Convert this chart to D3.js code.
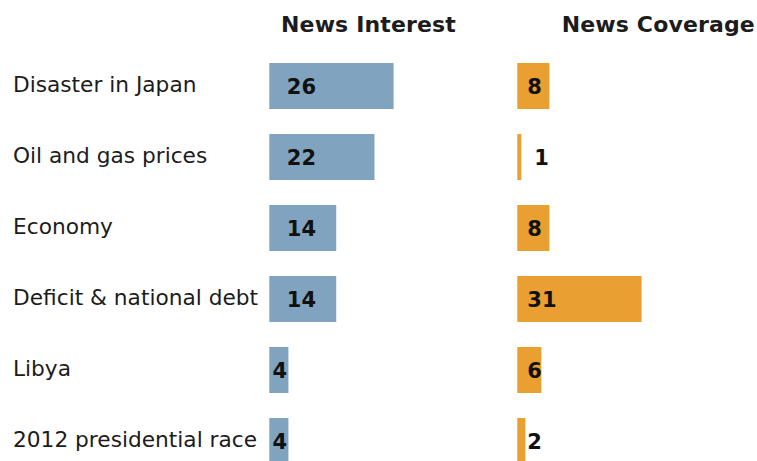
<!DOCTYPE html>
<html>
<head>
<meta charset="utf-8">
<script src="https://cdn.jsdelivr.net/npm/d3@7"></script>
<style>
  html, body { margin: 0; padding: 0; background: #ffffff; }
  svg { display: block; }
</style>
</head>
<body>
<svg id="chart" width="757" height="461"></svg>
<script>
// Stories, and the share of public interest vs. share of news coverage (%)
const categories = [
  "Disaster in Japan",
  "Oil and gas prices",
  "Economy",
  "Deficit & national debt",
  "Libya",
  "2012 presidential race"
];
const newsInterest = [26, 22, 14, 14, 4, 4];
const newsCoverage = [8, 1, 8, 31, 6, 2];
const panelTitles = ["News Interest", "News Coverage"];

const W = 757, H = 461;
const svg = d3.select("#chart");
const textColor = "#1c1c1c";
const blue = "#80a4bf";
const orange = "#e9a030";

// Shared row layout
const y = d3.scaleBand()
  .domain(categories)
  .range([50.5, 476.5])
  .paddingInner(0.352)
  .paddingOuter(0.176);

// Each panel is scaled so its largest value spans the same width
const barSpan = 124.3;
const xInterest = d3.scaleLinear()
  .domain([0, d3.max(newsInterest)])
  .range([269.3, 269.3 + barSpan]);
const xCoverage = d3.scaleLinear()
  .domain([0, d3.max(newsCoverage)])
  .range([517.3, 517.3 + barSpan]);

// Category labels
svg.append("g")
  .selectAll("text")
  .data(categories)
  .join("text")
  .attr("x", 13)
  .attr("y", d => y(d) + y.bandwidth() / 2 + 5.5)
  .attr("font-family", "'DejaVu Sans', Verdana, sans-serif")
  .attr("font-size", 21.7)
  .attr("fill", textColor)
  .text(d => d);

// Panel titles
svg.append("g")
  .selectAll("text")
  .data(panelTitles)
  .join("text")
  .attr("x", (d, i) => i === 0 ? 281 : 561.7)
  .attr("y", 31.5)
  .attr("font-family", "'DejaVu Sans', Verdana, sans-serif")
  .attr("font-weight", "bold")
  .attr("font-size", 22)
  .attr("letter-spacing", 0.15)
  .attr("fill", textColor)
  .text(d => d);

function drawPanel(values, x, color, labelPos) {
  const rows = categories.map((c, i) => ({ c, v: values[i] }));
  const g = svg.append("g");
  g.selectAll("rect")
    .data(rows)
    .join("rect")
    .attr("x", x(0))
    .attr("y", d => y(d.c))
    .attr("width", d => x(d.v) - x(0))
    .attr("height", y.bandwidth())
    .attr("fill", color);
  g.selectAll("text")
    .data(rows)
    .join("text")
    .each(function (d) {
      const p = labelPos(d, x);
      d3.select(this)
        .attr("x", p.x)
        .attr("text-anchor", p.anchor);
    })
    .attr("y", d => y(d.c) + y.bandwidth() / 2 + 8)
    .attr("font-family", "'DejaVu Sans', Verdana, sans-serif")
    .attr("font-weight", "bold")
    .attr("font-size", 21)
    .attr("fill", "#111")
    .text(d => d.v);
}

// Interest labels: inset from the bar start, centred in short bars
drawPanel(newsInterest, xInterest, blue, (d, x) => {
  const w = x(d.v) - x(0);
  return w >= 40
    ? { x: x(0) + 17.5, anchor: "start" }
    : { x: x(0) + w / 2 + 1, anchor: "middle" };
});

// Coverage labels: inset from the bar start, placed past hairline bars
drawPanel(newsCoverage, xCoverage, orange, (d, x) => {
  const w = x(d.v) - x(0);
  return w >= 6
    ? { x: x(0) + 10, anchor: "start" }
    : { x: x(d.v) + 13, anchor: "start" };
});
</script>
</body>
</html>
